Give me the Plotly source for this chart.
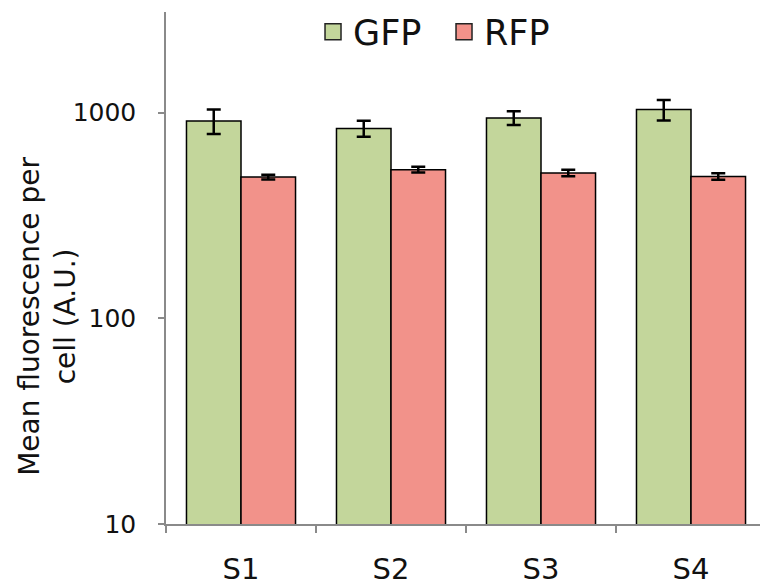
import plotly.graph_objects as go

categories = ["S1", "S2", "S3", "S4"]
gfp_values = [911, 837, 942, 1034]
gfp_errors = [125, 75, 72, 118]
rfp_values = [486, 528, 509, 489]
rfp_errors = [13, 17, 18, 18]
y_tickvals = [10, 100, 1000]
y_ticktext = ["10", "100", "1000"]

GFP_COLOR = "#c3d69b"
RFP_COLOR = "#f2928a"
FONT = "DejaVu Sans, Verdana, sans-serif"

fig = go.Figure()
fig.add_trace(go.Bar(
    x=categories, y=gfp_values, name="GFP", showlegend=False,
    marker=dict(color=GFP_COLOR, line=dict(color="black", width=1.5)),
    error_y=dict(type="data", array=gfp_errors, color="black", thickness=2.5, width=7),
))
fig.add_trace(go.Bar(
    x=categories, y=rfp_values, name="RFP", showlegend=False,
    marker=dict(color=RFP_COLOR, line=dict(color="black", width=1.5)),
    error_y=dict(type="data", array=rfp_errors, color="black", thickness=2.5, width=7),
))
# legend proxies (square markers)
for name, col in [("GFP", GFP_COLOR), ("RFP", RFP_COLOR)]:
    fig.add_trace(go.Scatter(
        x=[None], y=[None], mode="markers", name=name,
        marker=dict(symbol="square", size=21, color=col, line=dict(color="#222222", width=1.5)),
    ))

fig.update_layout(
    width=760, height=586,
    margin=dict(l=166, r=0, t=12, b=58),
    paper_bgcolor="white", plot_bgcolor="white",
    font=dict(family=FONT, color="#111111"),
    barmode="group", bargap=0.273, bargroupgap=0,
    showlegend=True,
    legend=dict(orientation="h", x=0.2475, xanchor="left", y=0.961, yanchor="middle",
                font=dict(size=35), itemsizing="trace", bgcolor="rgba(0,0,0,0)",
                itemwidth=30, tracegroupgap=0, entrywidth=86),
    xaxis=dict(
        type="category", range=[-0.5, 3.46],
        showline=True, linecolor="#8a8a8a", linewidth=1.5,
        ticks="outside", ticklen=7, tickcolor="#8a8a8a", tickwidth=1.5,
        tickson="boundaries", tickfont=dict(size=29), ticklabelstandoff=18,
        showgrid=False, zeroline=False,
    ),
    yaxis=dict(
        type="log", range=[1, 3.489],
        showline=True, linecolor="#8a8a8a", linewidth=1.5,
        ticks="outside", ticklen=6, tickcolor="#8a8a8a", tickwidth=1.5,
        tickvals=y_tickvals, ticktext=y_ticktext, tickfont=dict(size=25),
        ticklabelstandoff=17, showgrid=False, zeroline=False,
    ),
    annotations=[dict(
        text="Mean fluorescence per<br>cell (A.U.)", textangle=-90,
        xref="paper", yref="paper", x=-0.2, y=0.405,
        xanchor="center", yanchor="middle", showarrow=False,
        font=dict(size=28, family=FONT),
    )],
)

fig.write_html("out.html", config={"displayModeBar": False},
               post_script="document.body.style.margin='0';document.body.style.overflow='hidden';")
